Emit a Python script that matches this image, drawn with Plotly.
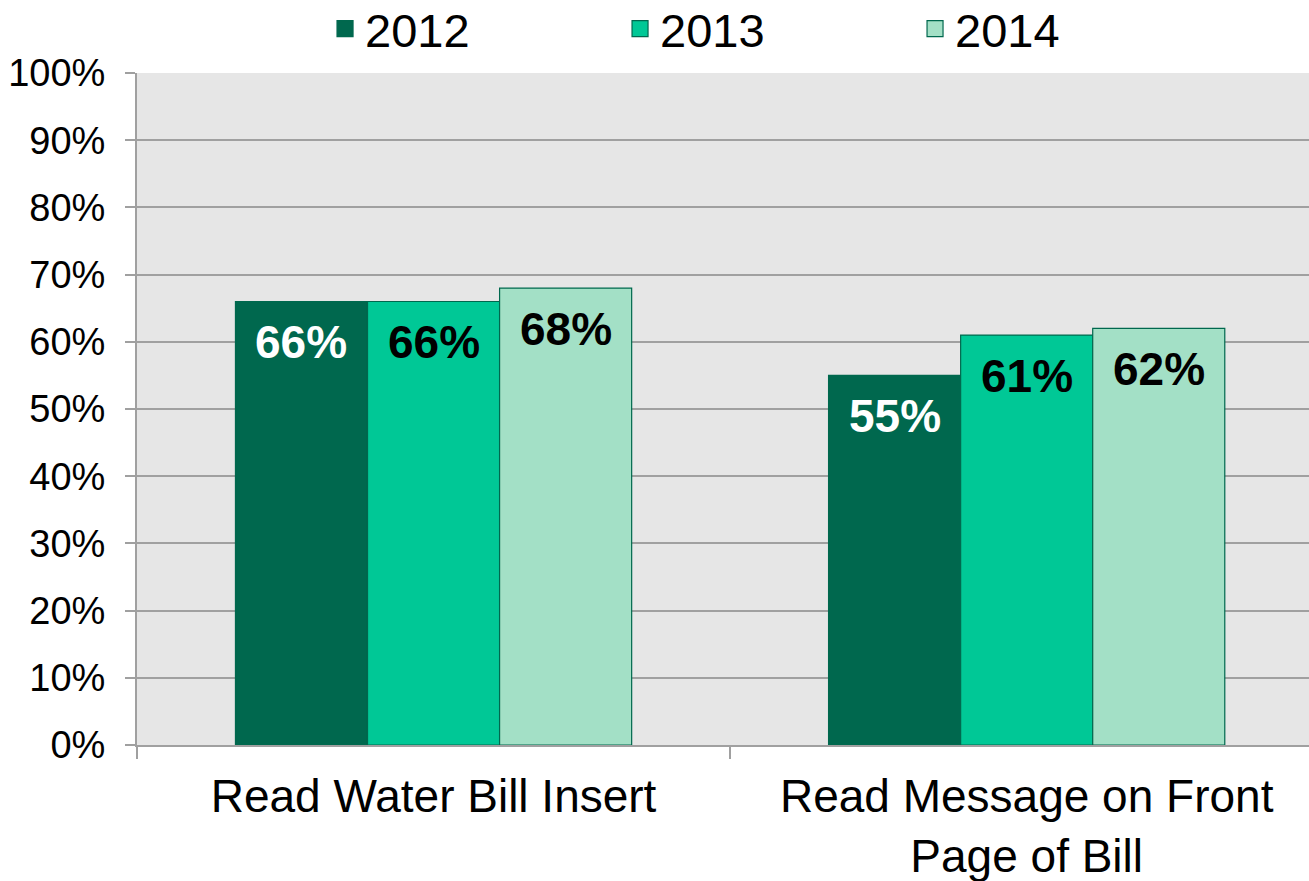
import plotly.graph_objects as go

categories = ["Read Water Bill Insert", "Read Message on Front<br>Page of Bill"]
years = ["2012", "2013", "2014"]
values = {
    "2012": [0.66, 0.55],
    "2013": [0.66, 0.61],
    "2014": [0.68, 0.62],
}
colors = {"2012": "#00684E", "2013": "#00C896", "2014": "#A3E0C6"}
label_colors = {"2012": "white", "2013": "black", "2014": "black"}
y_ticks = [i / 10 for i in range(11)]

FONT = "Liberation Sans, Arial, sans-serif"
OUTLINE = "#00684E"

W, H = 1309, 881
M_L, M_R, M_T, M_B = 137, 0, 73, 136
X_RANGE = [-0.5, 1.476]
BARGAP = 0.332

fig = go.Figure()
for yr in years:
    fig.add_trace(go.Bar(
        name=yr,
        x=categories,
        y=values[yr],
        marker=dict(color=colors[yr], line=dict(color=OUTLINE, width=1.2)),
        showlegend=False,
        hoverinfo="x+y",
    ))
    # legend proxy with a larger square symbol
    fig.add_trace(go.Scatter(
        name=yr, x=[None], y=[None], mode="markers",
        marker=dict(symbol="square", size=16, color=colors[yr],
                    line=dict(color=OUTLINE, width=1.2)),
        showlegend=True,
    ))

# value labels placed inside bars, below the top
plot_w = W - M_L - M_R
px_per_cat = plot_w / (X_RANGE[1] - X_RANGE[0])
bar_px = px_per_cat * (1 - BARGAP) / len(years)
for i, yr in enumerate(years):
    for cat, v in zip(categories, values[yr]):
        fig.add_annotation(
            x=cat, y=v, xref="x", yref="y",
            text=f"<b>{v:.0%}</b>",
            showarrow=False,
            xshift=(i - (len(years) - 1) / 2) * bar_px,
            yanchor="middle", yshift=-41,
            font=dict(family=FONT, size=46, color=label_colors[yr]),
        )

fig.update_layout(
    width=W, height=H,
    margin=dict(l=M_L, r=M_R, t=M_T, b=M_B, autoexpand=False),
    paper_bgcolor="white",
    plot_bgcolor="#E6E6E6",
    barmode="group",
    bargap=BARGAP,
    bargroupgap=0,
    font=dict(family=FONT, color="black"),
    legend=dict(
        orientation="h",
        x=0.538, xanchor="center",
        y=1.0655, yanchor="middle",
        font=dict(family=FONT, size=47),
        entrywidth=250,
        bgcolor="rgba(0,0,0,0)",
    ),
    showlegend=True,
)
fig.update_xaxes(
    type="category",
    range=X_RANGE,
    showgrid=False,
    showline=True, linecolor="#A0A0A0", linewidth=2,
    ticks="outside", tickson="boundaries", ticklen=12, tickcolor="#A0A0A0", tickwidth=2,
    tickfont=dict(family=FONT, size=46, color="black"),
    ticklabelstandoff=10,
)
fig.update_yaxes(
    range=[0, 1],
    tickvals=y_ticks,
    tickformat=".0%",
    showgrid=True, gridcolor="#A0A0A0", gridwidth=2,
    showline=True, linecolor="#A0A0A0", linewidth=2,
    ticks="outside", ticklen=10, tickcolor="#A0A0A0", tickwidth=2,
    tickfont=dict(family=FONT, size=38, color="black"),
    ticklabelstandoff=12,
    zeroline=False,
)

fig.write_html(
    "out.html",
    config={"displayModeBar": False},
    post_script="document.body.style.margin='0';",
)
